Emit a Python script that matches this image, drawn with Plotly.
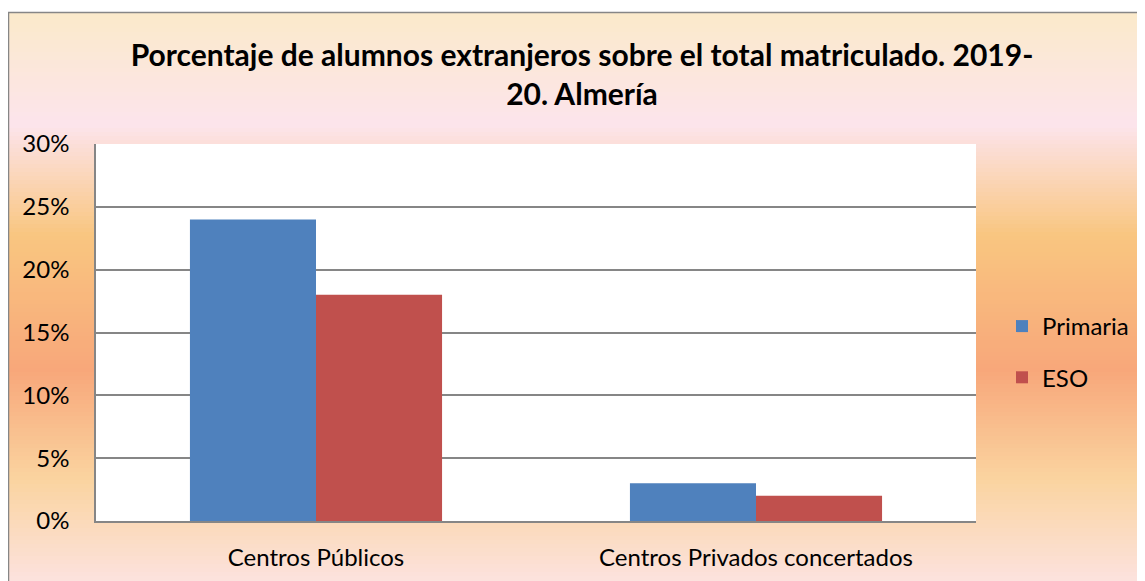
import plotly.graph_objects as go

categories = ["Centros Públicos", "Centros Privados concertados"]
primaria = [24, 3]
eso = [18, 2]
y_ticks = [0, 5, 10, 15, 20, 25, 30]
y_tick_labels = ["0%", "5%", "10%", "15%", "20%", "25%", "30%"]

OFF = 8  # page body margin
W, H = 1145 - OFF, 581 - OFF
L, R, T, B = 96 - OFF, 169, 144 - OFF, 60
ph = H - T - B
pw = W - L - R

def py(pix):  # reference pixel y -> paper y
    return (H - B - (pix - OFF)) / ph

def px(pix):
    return ((pix - OFF) - L) / pw

# gradient stops (reference pixel y, color)
stops = [(12, (251, 234, 202)), (125, (252, 228, 236)), (235, (249, 198, 128)),
         (370, (248, 167, 122)), (480, (250, 212, 160)), (581, (252, 226, 222))]

def col_at(y):
    for (y0, c0), (y1, c1) in zip(stops[:-1], stops[1:]):
        if y0 <= y <= y1:
            t = (y - y0) / (y1 - y0)
            return "rgb(%d,%d,%d)" % tuple(round(a + (b - a) * t) for a, b in zip(c0, c1))
    return "rgb(%d,%d,%d)" % stops[-1][1]

shapes = []
step = 4
for y in range(12, 581, step):
    shapes.append(dict(type="rect", xref="paper", yref="paper", layer="below",
                       x0=px(7), x1=px(1150), y0=py(y + step), y1=py(y),
                       fillcolor=col_at(y + step / 2), line=dict(width=0)))
shapes.append(dict(type="rect", xref="paper", yref="paper", layer="below",
                   x0=0, x1=1, y0=0, y1=1, fillcolor="white", line=dict(width=0)))
shapes.append(dict(type="rect", xref="paper", yref="paper", layer="above",
                   x0=px(8.5), x1=px(1160), y0=py(600), y1=py(12.5),
                   fillcolor="rgba(0,0,0,0)", line=dict(color="#868686", width=1.5)))

fig = go.Figure()
fig.add_trace(go.Bar(name="Primaria", x=categories, y=primaria, marker_color="#4F81BD",
                     marker_line_width=0, legendgroup="a"))
fig.add_trace(go.Bar(name="ESO", x=categories, y=eso, marker_color="#C0504D",
                     marker_line_width=0, legendgroup="b"))

font = "Lato, Open Sans, sans-serif"
fig.update_layout(
    width=W, height=H,
    margin=dict(l=L, r=R, t=T, b=B, pad=0, autoexpand=False),
    paper_bgcolor="white", plot_bgcolor="white",
    barmode="group", bargap=0.427, bargroupgap=0,
    font=dict(family=font, color="black", size=24),
    title=dict(text="<b>Porcentaje de alumnos extranjeros sobre el total matriculado. 2019-<br>20. Almería</b>",
               x=(582 - OFF) / W, xanchor="center", y=1 - (66 - OFF) / H, yanchor="middle",
               font=dict(size=30, family=font, color="black")),
    shapes=shapes,
    legend=dict(x=px(1002), xanchor="left", y=py(304), yanchor="top",
                bgcolor="rgba(0,0,0,0)", font=dict(size=24), tracegroupgap=17,
                traceorder="grouped"),
    xaxis=dict(showline=True, linecolor="#868686", linewidth=1.5, ticks="",
               tickfont=dict(size=24), ticklabelstandoff=14),
    yaxis=dict(range=[0, 30], tickvals=y_ticks, ticktext=y_tick_labels,
               showgrid=True, gridcolor="#868686", gridwidth=1.5,
               showline=True, linecolor="#868686", linewidth=1.5,
               zeroline=False, ticks="", tickfont=dict(size=24), ticklabelstandoff=20),
)

fig.write_html("out.html")
